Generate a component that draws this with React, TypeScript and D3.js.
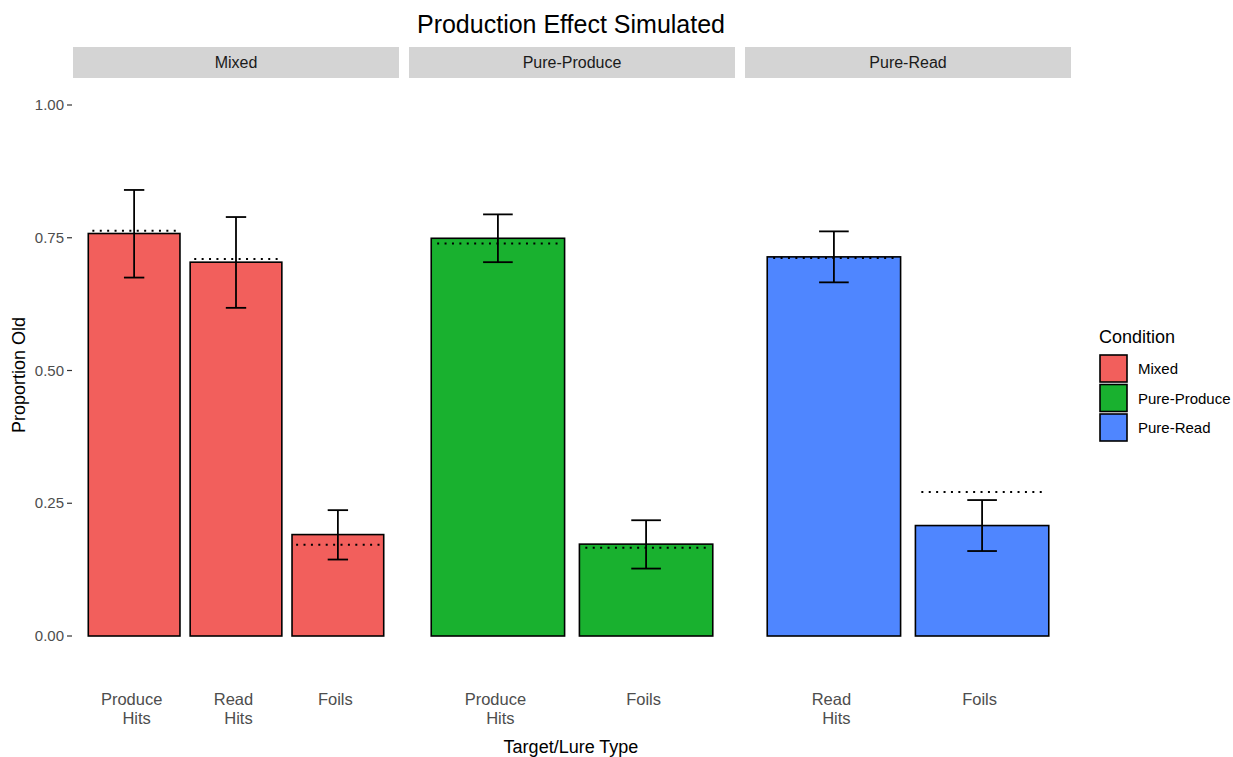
import React from "react";
import * as d3 from "d3";

const chartTitle = "Production Effect Simulated";
const xTitle = "Target/Lure Type";
const yTitle = "Proportion Old";
const legendTitle = "Condition";

const conditions = ["Mixed", "Pure-Produce", "Pure-Read"];
const conditionColors = ["#F25F5C", "#19B12F", "#4F86FF"];
const panelCategories: string[][] = [
  ["Produce Hits", "Read Hits", "Foils"],
  ["Produce Hits", "Foils"],
  ["Read Hits", "Foils"],
];

// one entry per bar
const barCondition = ["Mixed", "Mixed", "Mixed", "Pure-Produce", "Pure-Produce", "Pure-Read", "Pure-Read"];
const barType = ["Produce Hits", "Read Hits", "Foils", "Produce Hits", "Foils", "Read Hits", "Foils"];
const meanValues = [0.758, 0.704, 0.191, 0.749, 0.173, 0.714, 0.208];
const errLow = [0.675, 0.618, 0.144, 0.704, 0.127, 0.666, 0.160];
const errHigh = [0.840, 0.789, 0.237, 0.794, 0.218, 0.762, 0.256];
const observedValues = [0.763, 0.710, 0.172, 0.739, 0.166, 0.712, 0.271];

const yTicks = [0, 0.25, 0.5, 0.75, 1.0];

const W = 1233;
const H = 757;
const FONT = "'Liberation Sans', Arial, Helvetica, sans-serif";

export default function App() {
  const panelLeft = 73;
  const panelWidth = 326;
  const panelGap = 10;
  const stripTop = 47;
  const stripH = 31;
  const y = d3.scaleLinear().domain([0, 1]).range([636, 105]);
  const color = d3.scaleOrdinal<string, string>().domain(conditions).range(conditionColors);

  const panels = conditions.map((c, i) => {
    const x0 = panelLeft + i * (panelWidth + panelGap);
    const x = d3.scalePoint<string>().domain(panelCategories[i]).range([x0, x0 + panelWidth]).padding(0.6);
    return { c, x0, x };
  });

  const bars = meanValues.map((v, i) => {
    const p = panels[conditions.indexOf(barCondition[i])];
    const step = p.x.step();
    const cx = p.x(barType[i]) as number;
    return { i, v, cx, step, cond: barCondition[i] };
  });

  return (
    <svg width={W} height={H} style={{ position: "absolute", left: 0, top: 0, background: "#fff" }} fontFamily={FONT}>
      <rect x={0} y={0} width={W} height={H} fill="#fff" />
      <text x={571} y={33} textAnchor="middle" fontSize={25} fill="#000">{chartTitle}</text>

      {panels.map((p) => (
        <g key={p.c}>
          <rect x={p.x0} y={stripTop} width={panelWidth} height={stripH} fill="#D4D4D4" />
          <text x={p.x0 + panelWidth / 2} y={stripTop + stripH / 2 + 5.5} textAnchor="middle" fontSize={16} fill="#1A1A1A">{p.c}</text>
          {p.x.domain().map((cat) => {
            const lines = cat.split(" ");
            const cx = p.x(cat) as number;
            return (
              <text key={cat} x={cx} y={705} textAnchor="middle" fontSize={16.5} fill="#4D4D4D">
                {lines.map((l, k) => (
                  <tspan key={k} x={cx + (k === 0 ? -2.5 : 2.5)} dy={k === 0 ? 0 : 19}>{l}</tspan>
                ))}
              </text>
            );
          })}
        </g>
      ))}

      {bars.map((b) => {
        const w = b.step * 0.9;
        return (
          <rect key={"bar" + b.i} x={b.cx - w / 2} y={y(b.v)} width={w} height={y(0) - y(b.v)}
            fill={color(b.cond)} stroke="#000" strokeWidth={1.6} />
        );
      })}

      {bars.map((b) => {
        const cap = b.step * 0.2;
        return (
          <g key={"err" + b.i} stroke="#000" strokeWidth={1.8}>
            <line x1={b.cx} x2={b.cx} y1={y(errLow[b.i])} y2={y(errHigh[b.i])} />
            <line x1={b.cx - cap / 2} x2={b.cx + cap / 2} y1={y(errHigh[b.i])} y2={y(errHigh[b.i])} />
            <line x1={b.cx - cap / 2} x2={b.cx + cap / 2} y1={y(errLow[b.i])} y2={y(errLow[b.i])} />
          </g>
        );
      })}

      {bars.map((b) => {
        const half = b.step * 0.41;
        return (
          <line key={"obs" + b.i} x1={b.cx - half} x2={b.cx + half + 2} y1={y(observedValues[b.i])} y2={y(observedValues[b.i])}
            stroke="#000" strokeWidth={2} strokeDasharray="2 5.4" />
        );
      })}

      {yTicks.map((t) => (
        <g key={t}>
          <line x1={67} x2={72} y1={y(t)} y2={y(t)} stroke="#333" strokeWidth={1.2} />
          <text x={64} y={y(t) + 5} textAnchor="end" fontSize={15} fill="#4D4D4D">{d3.format(".2f")(t)}</text>
        </g>
      ))}

      <text transform={`translate(25,${375}) rotate(-90)`} textAnchor="middle" fontSize={18} fill="#000">{yTitle}</text>
      <text x={571} y={753} textAnchor="middle" fontSize={18} fill="#000">{xTitle}</text>

      <g>
        <text x={1099} y={343} fontSize={18} fill="#000">{legendTitle}</text>
        {conditions.map((c, i) => (
          <g key={c}>
            <rect x={1100} y={355 + i * 29.5} width={27} height={27} fill={color(c)} stroke="#000" strokeWidth={1.6} />
            <text x={1138} y={369 + i * 29.5 + 5} fontSize={15} fill="#000">{c}</text>
          </g>
        ))}
      </g>
    </svg>
  );
}
